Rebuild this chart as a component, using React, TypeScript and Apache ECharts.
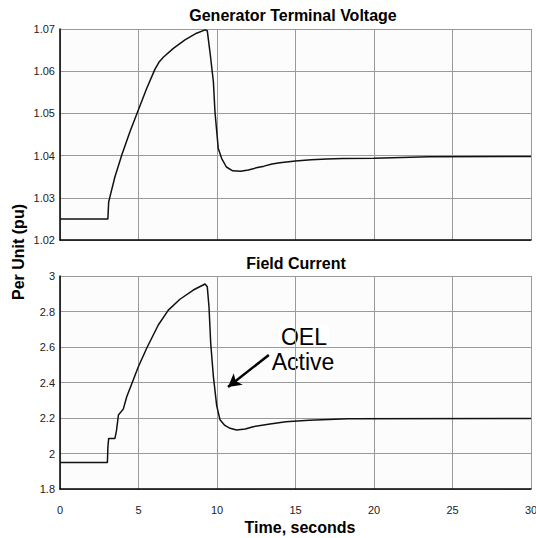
import React, { useEffect, useRef } from "react";
import * as echarts from "echarts";

const voltTime = [0, 3.05, 3.1, 3.2, 3.5, 3.93, 4.46, 4.99, 5.52, 6.05, 6.3, 6.58, 7.22, 7.96, 8.7, 9.24, 9.38, 9.55, 9.77, 9.87, 10.08, 10.3, 10.6, 11.0, 11.5, 12.0, 12.5, 13.0, 13.5, 14.0, 15.0, 16.0, 17.0, 18.0, 20.0, 23.5, 30];
const voltage = [1.025, 1.025, 1.029, 1.0305, 1.035, 1.0401, 1.0457, 1.0508, 1.0559, 1.0605, 1.0621, 1.0633, 1.0654, 1.0674, 1.069, 1.0698, 1.0696, 1.0646, 1.0575, 1.0504, 1.0417, 1.0393, 1.0373, 1.0364, 1.0363, 1.0366, 1.0371, 1.0375, 1.038, 1.0383, 1.0387, 1.039, 1.0392, 1.0393, 1.0394, 1.0397, 1.0398];

const currTime = [0, 3.02, 3.05, 3.1, 3.5, 3.6, 3.72, 4.03, 4.25, 4.56, 4.99, 5.52, 6.26, 6.9, 7.64, 8.49, 9.24, 9.38, 9.49, 9.6, 9.77, 9.98, 10.19, 10.5, 10.83, 11.25, 11.8, 12.3, 13.38, 14.39, 15.87, 18.33, 30];
const current = [1.95, 1.95, 2.035, 2.085, 2.085, 2.13, 2.217, 2.25, 2.32, 2.39, 2.489, 2.593, 2.724, 2.808, 2.869, 2.921, 2.955, 2.94, 2.827, 2.62, 2.433, 2.27, 2.19, 2.158, 2.142, 2.132, 2.138, 2.151, 2.166, 2.179, 2.187, 2.196, 2.197];

const arrowFrom = [13.3, 2.555];
const arrowTo = [10.7, 2.375];

const xTicks = [0, 5, 10, 15, 20, 25, 30];

const FONT = "Liberation Sans, Arial, sans-serif";

export default function App() {
  const ref = useRef<HTMLDivElement>(null);
  useEffect(() => {
    document.body.style.margin = "0";
    const chart = echarts.init(ref.current!, null, { renderer: "svg" });
    const gridLine = { show: true, lineStyle: { color: "#9a9a9a", width: 1 } };
    const axisLine = { show: true, lineStyle: { color: "#000", width: 1.5 } };
    const xBase = {
      type: "value" as const,
      min: xTicks[0],
      max: xTicks[xTicks.length - 1],
      interval: 5,
      splitLine: gridLine,
      axisLine,
      axisTick: { show: false },
    };
    chart.setOption({
      animation: false,
      backgroundColor: "#fff",
      grid: [
        { left: 60, top: 29, width: 471, height: 211, backgroundColor: "#fcfcfc", show: true, borderWidth: 0, outerBoundsMode: "none", containLabel: false },
        { left: 60, top: 276, width: 471, height: 213, backgroundColor: "#fcfcfc", show: true, borderWidth: 0, outerBoundsMode: "none", containLabel: false },
      ],
      xAxis: [
        { ...xBase, gridIndex: 0, axisLabel: { show: false } },
        {
          ...xBase,
          gridIndex: 1,
          axisLabel: { show: true, color: "#222", fontSize: 11, fontFamily: FONT, margin: 15 },
        },
      ],
      yAxis: [
        {
          type: "value",
          gridIndex: 0,
          min: 1.02,
          max: 1.07,
          interval: 0.01,
          splitLine: gridLine,
          axisLine,
          axisTick: { show: false },
          axisLabel: { color: "#222", fontSize: 11, fontFamily: FONT, margin: 5, formatter: (v: number) => v.toFixed(2) },
        },
        {
          type: "value",
          gridIndex: 1,
          min: 1.8,
          max: 3,
          interval: 0.2,
          splitLine: gridLine,
          axisLine,
          axisTick: { show: false },
          axisLabel: { color: "#222", fontSize: 11, fontFamily: FONT, margin: 5 },
        },
      ],
      series: [
        {
          type: "line",
          xAxisIndex: 0,
          yAxisIndex: 0,
          data: voltTime.map((t, i) => [t, voltage[i]]),
          showSymbol: false,
          lineStyle: { color: "#111", width: 1.5 },
        },
        {
          type: "line",
          xAxisIndex: 1,
          yAxisIndex: 1,
          data: currTime.map((t, i) => [t, current[i]]),
          showSymbol: false,
          lineStyle: { color: "#111", width: 1.5 },
          markLine: {
            silent: true,
            symbol: ["none", "arrow"],
            symbolSize: [11, 13],
            label: { show: false },
            lineStyle: { color: "#000", width: 2.5, type: "solid" },
            data: [[{ coord: arrowFrom }, { coord: arrowTo }]],
          },
        },
      ],
      graphic: [
        {
          type: "text",
          x: 293,
          y: 15,
          style: { text: "Generator Terminal Voltage", font: `bold 16px ${FONT}`, fill: "#000", textAlign: "center", textVerticalAlign: "middle" },
        },
        {
          type: "text",
          x: 296,
          y: 263,
          style: { text: "Field Current", font: `bold 16px ${FONT}`, fill: "#000", textAlign: "center", textVerticalAlign: "middle" },
        },
        {
          type: "text",
          x: 300,
          y: 527,
          style: { text: "Time, seconds", font: `bold 16px ${FONT}`, fill: "#000", textAlign: "center", textVerticalAlign: "middle" },
        },
        {
          type: "text",
          x: 18,
          y: 252,
          rotation: Math.PI / 2,
          style: { text: "Per Unit (pu)", font: `bold 16px ${FONT}`, fill: "#000", textAlign: "center", textVerticalAlign: "middle" },
        },
        {
          type: "text",
          x: 304,
          y: 337,
          style: { text: "OEL", font: `23px ${FONT}`, fill: "#000", textAlign: "center", textVerticalAlign: "middle", backgroundColor: "#fff", padding: [0, 2] },
        },
        {
          type: "text",
          x: 303,
          y: 362,
          style: { text: "Active", font: `23px ${FONT}`, fill: "#000", textAlign: "center", textVerticalAlign: "middle", backgroundColor: "#fff", padding: [0, 2] },
        },
      ],
    });
    return () => chart.dispose();
  }, []);
  return <div ref={ref} style={{ width: 536, height: 538 }} />;
}
